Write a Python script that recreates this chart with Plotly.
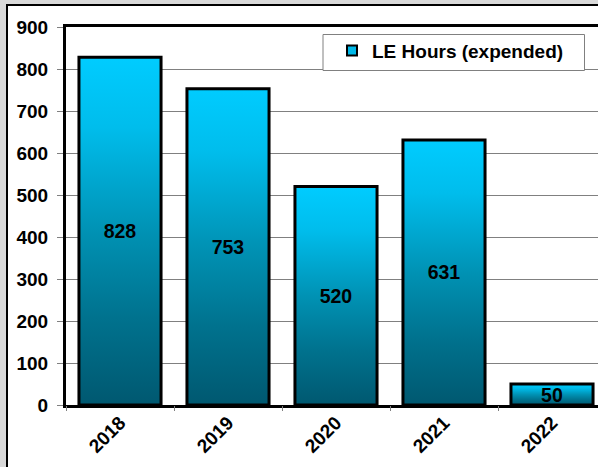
import plotly.graph_objects as go

# ---- data ----
years = ["2018", "2019", "2020", "2021", "2022"]
hours = [828, 753, 520, 631, 50]
series_name = "LE Hours (expended)"
y_ticks = [0, 100, 200, 300, 400, 500, 600, 700, 800, 900]

# ---- layout geometry (pixels) ----
W, H = 598, 467
L, R, T, B = 66, 0, 27, 62
pw = W - L - R
ph = H - T - B
cat_px = 108.0
x_hi = -0.5 + pw / cat_px
bar_w = 0.76

FONT = "Liberation Sans, Arial, sans-serif"
grad = [[0.0, "#005870"], [0.25, "#00728E"], [0.5, "#0092B4"],
        [0.8, "#00BDEC"], [1.0, "#00CCFF"]]


def px_x(p):
    return (p - L) / pw


def px_y(p):
    return (H - B - p) / ph


fig = go.Figure()

# gradient fills (one per bar), drawn on main numeric x axis
for i, v in enumerate(hours):
    x0, x1 = i - bar_w / 2, i + bar_w / 2
    fig.add_trace(go.Scatter(
        x=[x0, x0, x1, x1, x0], y=[0, v, v, 0, 0],
        mode="lines", fill="toself",
        fillgradient=dict(type="vertical", colorscale=grad),
        line=dict(width=0, color="rgba(0,0,0,0)"),
        showlegend=False, hoverinfo="skip", xaxis="x", yaxis="y"))

# legend entry
fig.add_trace(go.Scatter(
    x=[None], y=[None], mode="markers", name=series_name,
    marker=dict(symbol="square", size=10, color="#00B8E8",
                line=dict(color="black", width=2)),
    xaxis="x", yaxis="y"))

# real bars (outline + labels) on overlay category axis
fig.add_trace(go.Bar(
    x=years, y=hours, width=bar_w, xaxis="x2", yaxis="y",
    marker=dict(color="rgba(0,0,0,0)", line=dict(color="black", width=3)),
    text=[str(v) for v in hours], textposition="inside",
    insidetextanchor="middle", textangle=0, constraintext="none",
    textfont=dict(family=FONT, size=19.5, color="black", weight="bold"),
    showlegend=False, hoverinfo="skip"))

fig.update_layout(
    width=W, height=H,
    margin=dict(l=L, r=R, t=T, b=B, autoexpand=False),
    paper_bgcolor="#D9D9D9", plot_bgcolor="white",
    barmode="overlay",
    font=dict(family=FONT, size=19, color="black", weight="bold"),
    xaxis=dict(range=[-0.5, x_hi], showticklabels=False, ticks="",
               showgrid=False, zeroline=False, showline=True,
               linecolor="black", linewidth=3, mirror=True, fixedrange=True),
    xaxis2=dict(overlaying="x", side="bottom", type="category",
                categoryorder="array", categoryarray=years,
                range=[-0.5, x_hi], tickangle=-45, ticks="outside",
                tickson="boundaries", ticklen=5, tickcolor="#808080",
                ticklabelstandoff=2,
                showgrid=False, zeroline=False, showline=False,
                tickfont=dict(family=FONT, size=19, color="black", weight="bold")),
    yaxis=dict(range=[0, 900], tickvals=y_ticks, showgrid=True,
               gridcolor="#808080", gridwidth=1, zeroline=False,
               showline=True, linecolor="black", linewidth=3,
               ticks="outside", ticklen=6, tickcolor="#808080",
               ticklabelstandoff=5,
               tickfont=dict(family=FONT, size=19, color="black", weight="bold")),
    showlegend=True,
    legend=dict(x=0.5, y=0.988, xanchor="left", yanchor="top",
                bgcolor="rgba(0,0,0,0)", borderwidth=0,
                font=dict(family=FONT, size=19, color="black", weight="bold")),
    shapes=[
        dict(type="rect", xref="paper", yref="paper", layer="below",
             x0=px_x(7), x1=1.3, y0=-0.4, y1=px_y(5),
             fillcolor="white", line=dict(color="black", width=2)),
        dict(type="rect", xref="paper", yref="paper", layer="above",
             x0=px_x(323), x1=px_x(584.5), y0=px_y(70.5), y1=px_y(34.5),
             fillcolor="white", line=dict(color="#808080", width=1)),
    ],
)

fig.write_html(
    "out.html",
    config={"displayModeBar": False},
    post_script="document.body.style.margin='0';document.body.style.overflow='hidden';",
)
